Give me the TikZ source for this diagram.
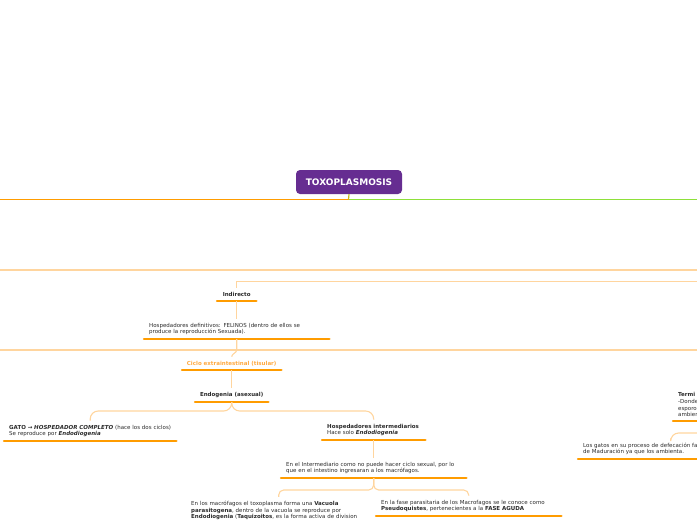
\documentclass[tikz,border=0pt]{standalone}
\usepackage{fontspec}
\setmainfont{DejaVu Sans}
\usepackage{tikz}
\usetikzlibrary{positioning}
\definecolor{mapPurple}{HTML}{662D91}
\definecolor{mapOrange}{HTML}{FF9C00}
\definecolor{mapLight}{HTML}{FFD59E}
\definecolor{mapGreen}{HTML}{8EE03A}
\definecolor{mapTitle}{HTML}{FFA940}
\definecolor{mapText}{HTML}{2B2B2B}
\tikzstyle{root} = [rectangle, rounded corners=4pt, fill=mapPurple, text=white, font=\fontsize{9}{10}\selectfont\bfseries, minimum width=106pt, minimum height=24pt]
\tikzstyle{uline} = [draw=mapOrange, line width=2.4pt, line cap=round]
\tikzstyle{topic} = [inner xsep=5pt, inner ysep=4pt, align=left, anchor=south west, text=mapText, font=\fontsize{5.5}{6.6}\selectfont, append after command={(\tikzlastnode.south west) edge[uline] (\tikzlastnode.south east)}]
\tikzstyle{heading} = [topic, inner xsep=0pt, align=center, font=\fontsize{5.5}{6.6}\selectfont\bfseries]
\tikzstyle{link} = [draw=mapLight, line width=1.1pt]
\tikzstyle{band} = [draw=mapLight, line width=1.6pt]

\begin{document}
\begin{tikzpicture}[x=1pt, y=-1pt]
\clip (0,0) rectangle (697,520);
\node (toxo) [root] at (349,182) {TOXOPLASMOSIS};
\coordinate (split) at (348.5,199.5);
\coordinate (leftOut) at (-5,199.5);
\coordinate (rightOut) at (702,199.5);
\draw [draw=mapOrange!50!mapGreen, line width=1.2pt] (toxo.south) -- (split);
\draw [draw=mapOrange, line width=1.3pt] (split) -- (leftOut);
\draw [draw=mapGreen, line width=1.3pt] (split) -- (rightOut);
% branches passing through the view
\coordinate (bandAL) at (-5,270);
\coordinate (bandAR) at (702,270);
\coordinate (bandBL) at (-5,350);
\coordinate (bandBR) at (702,350);
\draw [band] (bandAL) -- (bandAR);
\draw [band, line width=1.3pt] (bandBL) -- (bandBR);
% left subtree
\node (indir) [heading, minimum width=39pt] at (217,301) {Indirecto};
\node (defin) [topic, text width=175pt] at (144,339) {Hospedadores definitivos: FELINOS (dentro de ellos se\\produce la reproducción Sexuada).};
\node (ciclo) [heading, text=mapTitle, minimum width=99pt] at (182,370) {Ciclo extraintestinal (tisular)};
\node (endo) [heading, minimum width=73pt] at (195,402) {Endogenia (asexual)};
\node (gato) [topic, text width=162pt] at (4,441) {\textbf{GATO → \textit{HOSPEDADOR COMPLETO}} (hace los dos ciclos)\\Se reproduce por \textbf{\textit{Endodiogenia}}};
\node (inter) [topic, text width=93pt] at (322,440) {\textbf{Hospedadores intermediarios}\\Hace solo \textbf{\textit{Endodiogenia}}};
\node (intext) [topic, text width=175pt] at (281,478) {En el Intermediario como no puede hacer ciclo sexual, por lo\\que en el intestino ingresaran a los macrófagos.};
\node (macro) [topic, text width=175pt] at (186,524) {En los macrófagos el toxoplasma forma una \textbf{Vacuola}\\\textbf{parasitogena}, dentro de la vacuola se reproduce por\\\textbf{Endodiogenia} (\textbf{Taquizoitos}, es la forma activa de division};
\node (pseudo) [topic, text width=175pt] at (376,516) {En la fase parasitaria de los Macrofagos se le conoce como\\\textbf{Pseudoquistes}, pertenecientes a la \textbf{FASE AGUDA}};
% right subtree
\node (termi) [topic, text width=175pt] at (673,421) {\textbf{Termi}\\-Donde\\esporo\\ambier};
\node (losgatos) [topic, text width=175pt] at (578,459) {Los gatos en su proceso de defecación fa\\de Maduración ya que los ambienta.};
\coordinate (indIn) at (702,281.5);
\coordinate (gatosIn) at (702,433);
\draw [link] (indIn) -| (indir.north);
\draw [link] (indir.south) -- (defin.north);
\draw [link] (defin.south) -- ++(0,11) .. controls +(0,3) and +(0,-3) .. (ciclo.north);
\draw [link] (ciclo.south) -- (endo.north);
\draw [link, rounded corners=8pt] (endo.south) -- ++(0,9) -| (gato.north);
\draw [link, rounded corners=8pt] (endo.south) -- ++(0,9) -| (inter.north);
\draw [link] (inter.south) -- (intext.north);
\draw [link, rounded corners=5pt] (intext.south) -- ++(0,12) -| (macro.north);
\draw [link, rounded corners=5pt] (intext.south) -- ++(0,12) -| (pseudo.north);
\draw [link, rounded corners=8pt] (gatosIn) -| (losgatos.north);
\end{tikzpicture}
\end{document}
